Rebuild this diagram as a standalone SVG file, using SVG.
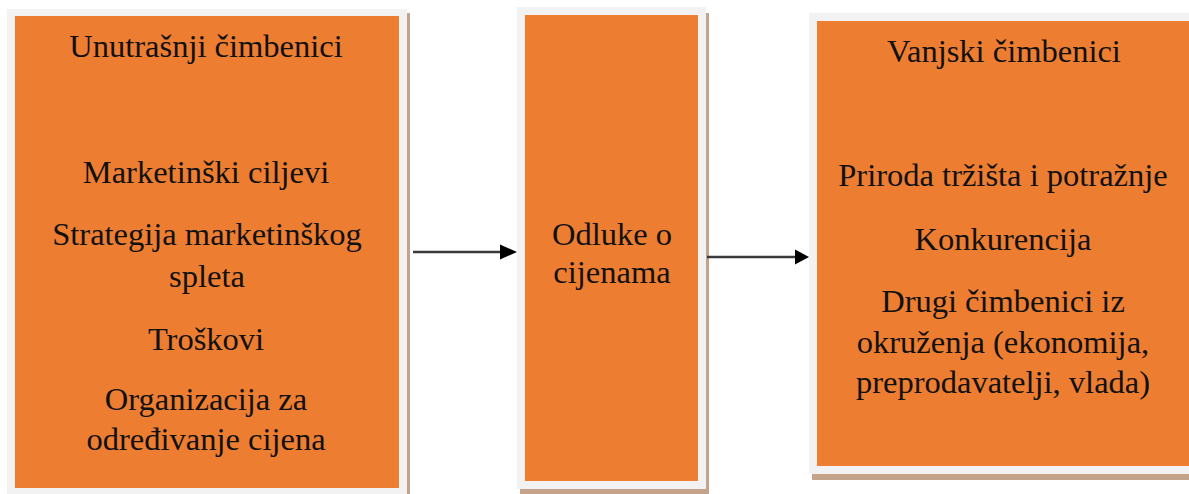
<svg xmlns="http://www.w3.org/2000/svg" width="1189" height="494" viewBox="0 0 1189 494">
<style>
.shadow{fill:#c4a38a}
.frame{fill:#f2f2f2}
.box{fill:#ed7d31}
.t{font-family:"Liberation Serif","Times New Roman",serif;font-size:32.5px;fill:#111;text-anchor:middle}
.conn{stroke:#3a3a3a;stroke-width:2.5;fill:none}
.head{fill:#000}
</style>
<rect width="1189" height="494" fill="#fff"/>
<g id="node-internal">
<rect class="shadow" x="10" y="13" width="400" height="481"/>
<rect class="frame" x="7" y="9" width="400" height="485"/>
<rect class="box" x="15" y="16" width="384" height="472"/>
<text class="t" x="206" y="57">Unutrašnji čimbenici</text>
<text class="t" x="206" y="183">Marketinški ciljevi</text>
<text class="t" x="207" y="245">Strategija marketinškog</text>
<text class="t" x="207" y="287">spleta</text>
<text class="t" x="206" y="350">Troškovi</text>
<text class="t" x="206" y="410">Organizacija za</text>
<text class="t" x="206" y="450">određivanje cijena</text>
</g>
<g id="node-decisions">
<rect class="shadow" x="520" y="13" width="189" height="481"/>
<rect class="frame" x="517" y="7" width="189" height="482"/>
<rect class="box" x="525" y="15" width="173" height="466"/>
<text class="t" x="612" y="245">Odluke o</text>
<text class="t" x="612" y="283">cijenama</text>
</g>
<g id="node-external">
<rect class="shadow" x="812" y="17" width="377" height="463"/>
<rect class="frame" x="809" y="13" width="380" height="461"/>
<rect class="box" x="817" y="21" width="372" height="445"/>
<text class="t" x="1004" y="62">Vanjski čimbenici</text>
<text class="t" x="1003" y="186">Priroda tržišta i potražnje</text>
<text class="t" x="1003" y="250">Konkurencija</text>
<text class="t" x="1003" y="312">Drugi čimbenici iz</text>
<text class="t" x="1003" y="353">okruženja (ekonomija,</text>
<text class="t" x="1003" y="393">preprodavatelji, vlada)</text>
</g>
<g id="connectors">
<line class="conn" x1="413" y1="252" x2="502" y2="252"/>
<polygon class="head" points="500,244.5 517,252 500,259.5"/>
<line class="conn" x1="707" y1="257" x2="797" y2="257"/>
<polygon class="head" points="795,249.5 809,257 795,264.5"/>
</g>
</svg>
